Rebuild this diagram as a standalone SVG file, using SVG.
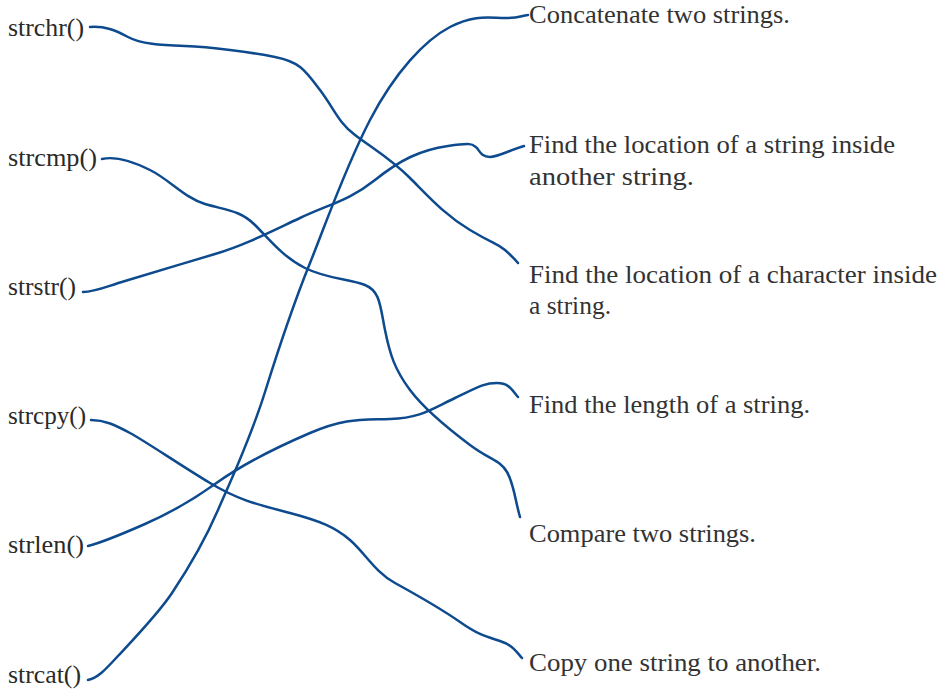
<svg xmlns="http://www.w3.org/2000/svg" width="940" height="689" viewBox="0 0 940 689">
<style>
.fn{font-family:"Liberation Serif","DejaVu Serif",serif;font-size:26px;fill:#2a2a2a}
.ds{font-family:"Liberation Serif","DejaVu Serif",serif;font-size:25px;fill:#333}
.c{fill:none;stroke:#0d4a8e;stroke-width:2.5;stroke-linecap:round;stroke-linejoin:round}
</style>
<rect width="940" height="689" fill="#fff"/>
<g id="strchr"><text class="fn" x="8" y="36" textLength="76" lengthAdjust="spacingAndGlyphs">strchr()</text></g>
<g id="strcmp"><text class="fn" x="8" y="166" textLength="89" lengthAdjust="spacingAndGlyphs">strcmp()</text></g>
<g id="strstr"><text class="fn" x="8" y="295" textLength="68" lengthAdjust="spacingAndGlyphs">strstr()</text></g>
<g id="strcpy"><text class="fn" x="8" y="424" textLength="78" lengthAdjust="spacingAndGlyphs">strcpy()</text></g>
<g id="strlen"><text class="fn" x="8" y="553" textLength="76" lengthAdjust="spacingAndGlyphs">strlen()</text></g>
<g id="strcat"><text class="fn" x="8" y="683" textLength="73" lengthAdjust="spacingAndGlyphs">strcat()</text></g>

<g id="d-concat"><text class="ds" x="529" y="23" textLength="261" lengthAdjust="spacingAndGlyphs">Concatenate two strings.</text></g>
<g id="d-strstr"><text class="ds" x="529" y="153" textLength="366" lengthAdjust="spacingAndGlyphs">Find the location of a string inside</text><text class="ds" x="529" y="185" textLength="165" lengthAdjust="spacingAndGlyphs">another string.</text></g>
<g id="d-strchr"><text class="ds" x="529" y="283" textLength="408" lengthAdjust="spacingAndGlyphs">Find the location of a character inside</text><text class="ds" x="529" y="314" textLength="82" lengthAdjust="spacingAndGlyphs">a string.</text></g>
<g id="d-strlen"><text class="ds" x="529" y="413" textLength="281" lengthAdjust="spacingAndGlyphs">Find the length of a string.</text></g>
<g id="d-strcmp"><text class="ds" x="529" y="542" textLength="227" lengthAdjust="spacingAndGlyphs">Compare two strings.</text></g>
<g id="d-strcpy"><text class="ds" x="529" y="671" textLength="292" lengthAdjust="spacingAndGlyphs">Copy one string to another.</text></g>

<g id="connectors">
<path class="c" d="M90,27 C105,26 115,30 128,37 S160,45 185,46 S250,52 275,57 S305,70 320,90 S338,122 355,135 S390,158 410,178 S445,215 470,230 S497,243 505,250 S514,258 518,263"/>
<path class="c" d="M102,159 C115,156 130,160 150,170 S185,198 205,204 S240,210 255,225 S283,257 305,268 S350,279 365,285 S380,305 385,330 S395,370 410,390 S450,430 470,445 S500,460 507,472 S515,500 520,517"/>
<path class="c" d="M83,292 C95,292 105,287 125,281 S185,263 215,254 S270,232 300,218 S350,200 375,180 S420,150 448,146 S472,145 477,148 C480,152 482,157 490,157 S510,150 524,146"/>
<path class="c" d="M91,420 C105,420 115,425 130,433 S180,465 210,483 S260,505 290,513 S335,527 350,540 S375,572 395,583 S440,608 460,622 S488,637 500,641 S515,650 522,658"/>
<path class="c" d="M88,546 C100,543 120,535 145,524 S190,502 215,484 S275,448 310,433 S360,420 390,419 S430,410 455,398 S485,383 497,383 S512,390 518,397"/>
<path class="c" d="M88,680 C98,678 105,670 118,656 S158,614 172,593 S205,540 218,510 S250,440 265,392 S295,300 310,263 S345,168 370,120 S425,40 450,27 S490,18 505,18 S520,16 528,15"/>
</g>
</svg>
